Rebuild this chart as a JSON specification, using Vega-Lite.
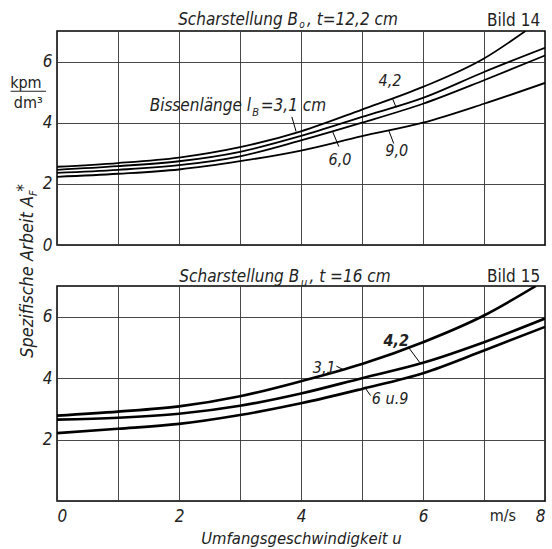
{
  "$schema": "https://vega.github.io/schema/vega-lite/v6.json",
  "background": "white",
  "padding": {"left": 9, "top": 10, "right": 2, "bottom": 0},
  "config": {
    "font": "Liberation Sans Narrow, DejaVu Sans Condensed, Liberation Sans, sans-serif",
    "view": {"stroke": "black", "strokeWidth": 1.5},
    "axis": {
      "grid": true, "gridColor": "#333", "gridWidth": 0.9, "gridOpacity": 1,
      "ticks": false, "domain": false,
      "labelFontSize": 17, "labelFontStyle": "italic", "labelColor": "#222",
      "titleColor": "#222", "format": "d"
    },
    "text": {"color": "#222"}
  },
  "datasets": {
    "top_lines": [
      {"u": 0, "A": 2.56, "lb": "3,1"}, {"u": 1, "A": 2.68, "lb": "3,1"}, {"u": 2, "A": 2.86, "lb": "3,1"}, {"u": 3, "A": 3.2, "lb": "3,1"}, {"u": 4, "A": 3.72, "lb": "3,1"}, {"u": 5, "A": 4.43, "lb": "3,1"}, {"u": 6, "A": 5.17, "lb": "3,1"}, {"u": 7, "A": 6.1, "lb": "3,1"}, {"u": 7.68, "A": 7.0, "lb": "3,1"},
      {"u": 0, "A": 2.46, "lb": "4,2"}, {"u": 1, "A": 2.58, "lb": "4,2"}, {"u": 2, "A": 2.74, "lb": "4,2"}, {"u": 3, "A": 3.05, "lb": "4,2"}, {"u": 4, "A": 3.57, "lb": "4,2"}, {"u": 5, "A": 4.19, "lb": "4,2"}, {"u": 6, "A": 4.81, "lb": "4,2"}, {"u": 7, "A": 5.66, "lb": "4,2"}, {"u": 8, "A": 6.45, "lb": "4,2"},
      {"u": 0, "A": 2.36, "lb": "6,0"}, {"u": 1, "A": 2.46, "lb": "6,0"}, {"u": 2, "A": 2.61, "lb": "6,0"}, {"u": 3, "A": 2.9, "lb": "6,0"}, {"u": 4, "A": 3.42, "lb": "6,0"}, {"u": 5, "A": 4.0, "lb": "6,0"}, {"u": 6, "A": 4.62, "lb": "6,0"}, {"u": 7, "A": 5.39, "lb": "6,0"}, {"u": 8, "A": 6.2, "lb": "6,0"},
      {"u": 0, "A": 2.23, "lb": "9,0"}, {"u": 1, "A": 2.33, "lb": "9,0"}, {"u": 2, "A": 2.47, "lb": "9,0"}, {"u": 3, "A": 2.74, "lb": "9,0"}, {"u": 4, "A": 3.09, "lb": "9,0"}, {"u": 5, "A": 3.56, "lb": "9,0"}, {"u": 6, "A": 4.0, "lb": "9,0"}, {"u": 7, "A": 4.62, "lb": "9,0"}, {"u": 8, "A": 5.3, "lb": "9,0"}
    ],
    "bot_lines": [
      {"u": 0, "A": 2.78, "lb": "3,1"}, {"u": 1, "A": 2.91, "lb": "3,1"}, {"u": 2, "A": 3.08, "lb": "3,1"}, {"u": 3, "A": 3.41, "lb": "3,1"}, {"u": 4, "A": 3.9, "lb": "3,1"}, {"u": 5, "A": 4.46, "lb": "3,1"}, {"u": 6, "A": 5.17, "lb": "3,1"}, {"u": 7, "A": 6.04, "lb": "3,1"}, {"u": 7.85, "A": 7.0, "lb": "3,1"},
      {"u": 0, "A": 2.65, "lb": "4,2"}, {"u": 1, "A": 2.71, "lb": "4,2"}, {"u": 2, "A": 2.84, "lb": "4,2"}, {"u": 3, "A": 3.1, "lb": "4,2"}, {"u": 4, "A": 3.5, "lb": "4,2"}, {"u": 5, "A": 4.0, "lb": "4,2"}, {"u": 6, "A": 4.5, "lb": "4,2"}, {"u": 7, "A": 5.17, "lb": "4,2"}, {"u": 8, "A": 5.94, "lb": "4,2"},
      {"u": 0, "A": 2.21, "lb": "6 u. 9"}, {"u": 1, "A": 2.35, "lb": "6 u. 9"}, {"u": 2, "A": 2.51, "lb": "6 u. 9"}, {"u": 3, "A": 2.8, "lb": "6 u. 9"}, {"u": 4, "A": 3.18, "lb": "6 u. 9"}, {"u": 5, "A": 3.65, "lb": "6 u. 9"}, {"u": 6, "A": 4.16, "lb": "6 u. 9"}, {"u": 7, "A": 4.9, "lb": "6 u. 9"}, {"u": 8, "A": 5.67, "lb": "6 u. 9"}
    ]
  },
  "vconcat": [
    {
      "width": 488, "height": 214,
      "layer": [
        {
          "data": {"name": "top_lines"},
          "mark": {"type": "line", "color": "black", "strokeWidth": 1.8, "interpolate": "monotone", "clip": true},
          "encoding": {
            "x": {"field": "u", "type": "quantitative", "scale": {"domain": [0, 8], "nice": false},
                  "axis": {"values": [0,1,2,3,4,5,6,7,8], "labels": false, "title": null}},
            "y": {"field": "A", "type": "quantitative", "scale": {"domain": [0, 7], "nice": false},
                  "axis": {"values": [0,1,2,3,4,5,6,7], "labelExpr": "datum.value % 2 == 0 && datum.value < 7 ? datum.label : ''", "labelPadding": 5, "title": null}},
            "detail": {"field": "lb"}
          }
        },
        {
          "data": {"values": [
            {"x": 3.85, "y": 4.19, "x2": 3.92, "y2": 3.71},
            {"x": 5.50, "y": 4.79, "x2": 5.56, "y2": 4.50},
            {"x": 4.52, "y": 3.70, "x2": 4.62, "y2": 3.22},
            {"x": 5.44, "y": 3.74, "x2": 5.52, "y2": 3.32}
          ]},
          "mark": {"type": "rule", "color": "black", "strokeWidth": 1},
          "encoding": {"x": {"field": "x", "type": "quantitative"}, "y": {"field": "y", "type": "quantitative"}, "x2": {"field": "x2"}, "y2": {"field": "y2"}}
        },
        {
          "data": {"values": [
            {"x": 5.46, "y": 5.36, "t": "4,2"},
            {"x": 4.64, "y": 2.77, "t": "6,0"},
            {"x": 5.57, "y": 3.07, "t": "9,0"}
          ]},
          "mark": {"type": "text", "fontSize": 16, "fontStyle": "italic", "align": "center", "baseline": "middle"},
          "encoding": {"x": {"field": "x", "type": "quantitative"}, "y": {"field": "y", "type": "quantitative"}, "text": {"field": "t"}}
        },
        {
          "data": {"values": [{"x": 3.95, "y": 7.36, "t": "Scharstellung B"}]},
          "mark": {"type": "text", "fontSize": 17, "fontStyle": "italic", "align": "right", "baseline": "middle"},
          "encoding": {"x": {"field": "x", "type": "quantitative"}, "y": {"field": "y", "type": "quantitative"}, "text": {"field": "t"}}
        },
        {
          "data": {"values": [{"x": 3.97, "y": 7.19, "t": "o"}]},
          "mark": {"type": "text", "fontSize": 10, "fontStyle": "italic", "align": "left", "baseline": "middle"},
          "encoding": {"x": {"field": "x", "type": "quantitative"}, "y": {"field": "y", "type": "quantitative"}, "text": {"field": "t"}}
        },
        {
          "data": {"values": [{"x": 4.1, "y": 7.36, "t": ", t=12,2 cm"}]},
          "mark": {"type": "text", "fontSize": 17, "fontStyle": "italic", "align": "left", "baseline": "middle"},
          "encoding": {"x": {"field": "x", "type": "quantitative"}, "y": {"field": "y", "type": "quantitative"}, "text": {"field": "t"}}
        },
        {
          "data": {"values": [{"x": 7.92, "y": 7.34, "t": "Bild 14"}]},
          "mark": {"type": "text", "fontSize": 17, "align": "right", "baseline": "middle"},
          "encoding": {"x": {"field": "x", "type": "quantitative"}, "y": {"field": "y", "type": "quantitative"}, "text": {"field": "t"}}
        },
        {
          "data": {"values": [{"x": 3.18, "y": 4.39, "t": "Bissenlänge  l"}]},
          "mark": {"type": "text", "fontSize": 17, "fontStyle": "italic", "align": "right", "baseline": "alphabetic"},
          "encoding": {"x": {"field": "x", "type": "quantitative"}, "y": {"field": "y", "type": "quantitative"}, "text": {"field": "t"}}
        },
        {
          "data": {"values": [{"x": 3.2, "y": 4.23, "t": "B"}]},
          "mark": {"type": "text", "fontSize": 11, "fontStyle": "italic", "align": "left", "baseline": "alphabetic"},
          "encoding": {"x": {"field": "x", "type": "quantitative"}, "y": {"field": "y", "type": "quantitative"}, "text": {"field": "t"}}
        },
        {
          "data": {"values": [{"x": 3.34, "y": 4.39, "t": "=3,1 cm"}]},
          "mark": {"type": "text", "fontSize": 17, "fontStyle": "italic", "align": "left", "baseline": "alphabetic"},
          "encoding": {"x": {"field": "x", "type": "quantitative"}, "y": {"field": "y", "type": "quantitative"}, "text": {"field": "t"}}
        },
        {
          "data": {"values": [{"x": -0.51, "y": 5.14, "t": "kpm"}, {"x": -0.47, "y": 4.48, "t": "dm³"}]},
          "mark": {"type": "text", "fontSize": 16, "align": "center", "baseline": "alphabetic"},
          "encoding": {"x": {"field": "x", "type": "quantitative"}, "y": {"field": "y", "type": "quantitative"}, "text": {"field": "t"}}
        },
        {
          "data": {"values": [{"x": -0.76, "x2": -0.18, "y": 5.03}]},
          "mark": {"type": "rule", "color": "#222", "strokeWidth": 1.2},
          "encoding": {"x": {"field": "x", "type": "quantitative"}, "x2": {"field": "x2"}, "y": {"field": "y", "type": "quantitative"}}
        }
      ]
    },
    {
      "width": 488, "height": 215,
      "layer": [
        {
          "data": {"name": "bot_lines"},
          "mark": {"type": "line", "color": "black", "strokeWidth": 2.6, "interpolate": "monotone", "clip": true},
          "encoding": {
            "x": {"field": "u", "type": "quantitative", "scale": {"domain": [0, 8], "nice": false},
                  "axis": {"values": [0,1,2,3,4,5,6,7,8], "labelExpr": "datum.value % 2 == 0 ? datum.label : ''", "labelPadding": 7,
                           "title": "Umfangsgeschwindigkeit u", "titleFontSize": 16.5, "titleFontStyle": "italic", "titleFontWeight": "normal", "titlePadding": 6}},
            "y": {"field": "A", "type": "quantitative", "scale": {"domain": [0, 7], "nice": false},
                  "axis": {"values": [0,1,2,3,4,5,6,7], "labelExpr": "datum.value % 2 == 0 && datum.value > 0 && datum.value < 7 ? datum.label : ''", "labelPadding": 5, "title": null}},
            "detail": {"field": "lb"}
          }
        },
        {
          "data": {"values": [
            {"x": 4.58, "y": 4.39, "x2": 4.70, "y2": 4.27},
            {"x": 5.76, "y": 5.01, "x2": 5.95, "y2": 4.50},
            {"x": 5.06, "y": 3.66, "x2": 5.14, "y2": 3.43}
          ]},
          "mark": {"type": "rule", "color": "black", "strokeWidth": 1},
          "encoding": {"x": {"field": "x", "type": "quantitative"}, "y": {"field": "y", "type": "quantitative"}, "x2": {"field": "x2"}, "y2": {"field": "y2"}}
        },
        {
          "data": {"values": [
            {"x": 4.38, "y": 4.33, "t": "3,1"},
            {"x": 5.46, "y": 3.32, "t": "6 u.9"}
          ]},
          "mark": {"type": "text", "fontSize": 16, "fontStyle": "italic", "align": "center", "baseline": "middle"},
          "encoding": {"x": {"field": "x", "type": "quantitative"}, "y": {"field": "y", "type": "quantitative"}, "text": {"field": "t"}}
        },
        {
          "data": {"values": [{"x": 5.56, "y": 5.21, "t": "4,2"}]},
          "mark": {"type": "text", "fontSize": 16, "fontStyle": "italic", "fontWeight": "bold", "align": "center", "baseline": "middle"},
          "encoding": {"x": {"field": "x", "type": "quantitative"}, "y": {"field": "y", "type": "quantitative"}, "text": {"field": "t"}}
        },
        {
          "data": {"values": [{"x": 3.97, "y": 7.29, "t": "Scharstellung B"}]},
          "mark": {"type": "text", "fontSize": 17, "fontStyle": "italic", "align": "right", "baseline": "middle"},
          "encoding": {"x": {"field": "x", "type": "quantitative"}, "y": {"field": "y", "type": "quantitative"}, "text": {"field": "t"}}
        },
        {
          "data": {"values": [{"x": 4.0, "y": 7.1, "t": "u"}]},
          "mark": {"type": "text", "fontSize": 11, "fontStyle": "italic", "align": "left", "baseline": "middle"},
          "encoding": {"x": {"field": "x", "type": "quantitative"}, "y": {"field": "y", "type": "quantitative"}, "text": {"field": "t"}}
        },
        {
          "data": {"values": [{"x": 4.14, "y": 7.29, "t": ",  t =16 cm"}]},
          "mark": {"type": "text", "fontSize": 17, "fontStyle": "italic", "align": "left", "baseline": "middle"},
          "encoding": {"x": {"field": "x", "type": "quantitative"}, "y": {"field": "y", "type": "quantitative"}, "text": {"field": "t"}}
        },
        {
          "data": {"values": [{"x": 7.92, "y": 7.29, "t": "Bild 15"}]},
          "mark": {"type": "text", "fontSize": 17, "align": "right", "baseline": "middle"},
          "encoding": {"x": {"field": "x", "type": "quantitative"}, "y": {"field": "y", "type": "quantitative"}, "text": {"field": "t"}}
        },
        {
          "data": {"values": [{"x": 7.31, "y": -0.48, "t": "m/s"}]},
          "mark": {"type": "text", "fontSize": 16, "align": "center", "baseline": "middle"},
          "encoding": {"x": {"field": "x", "type": "quantitative"}, "y": {"field": "y", "type": "quantitative"}, "text": {"field": "t"}}
        },
        {
          "data": {"values": [{"x": -0.40, "y": 9.93, "t": "Spezifische Arbeit A"}]},
          "mark": {"type": "text", "fontSize": 18, "fontStyle": "italic", "angle": 270, "align": "right", "baseline": "alphabetic"},
          "encoding": {"x": {"field": "x", "type": "quantitative"}, "y": {"field": "y", "type": "quantitative"}, "text": {"field": "t"}}
        },
        {
          "data": {"values": [{"x": -0.32, "y": 9.93, "t": "F"}]},
          "mark": {"type": "text", "fontSize": 11, "fontStyle": "italic", "angle": 270, "align": "left", "baseline": "alphabetic"},
          "encoding": {"x": {"field": "x", "type": "quantitative"}, "y": {"field": "y", "type": "quantitative"}, "text": {"field": "t"}}
        },
        {
          "data": {"values": [{"x": -0.46, "y": 10.07, "t": "*"}]},
          "mark": {"type": "text", "fontSize": 17, "angle": 270, "align": "left", "baseline": "alphabetic"},
          "encoding": {"x": {"field": "x", "type": "quantitative"}, "y": {"field": "y", "type": "quantitative"}, "text": {"field": "t"}}
        }
      ]
    }
  ],
  "spacing": 41,
  "bounds": "flush"
}
